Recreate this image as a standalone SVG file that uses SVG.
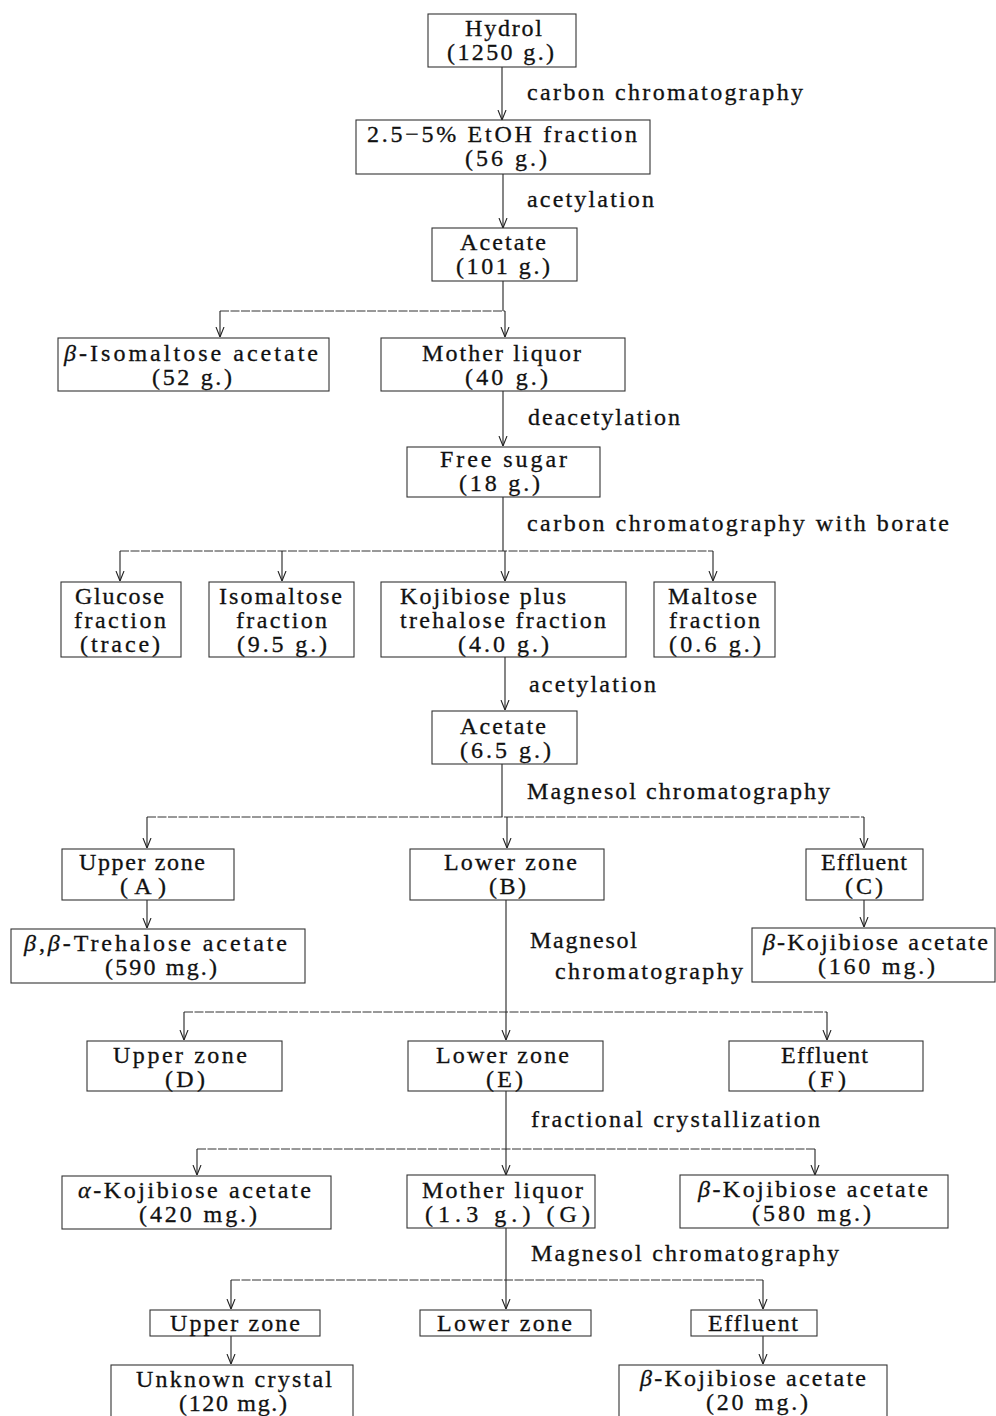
<svg xmlns="http://www.w3.org/2000/svg" width="996" height="1416" viewBox="0 0 996 1416">
<style>
.box{fill:none;stroke:#333;stroke-width:1.1}
.t{font-family:"Liberation Serif","Times New Roman",serif;font-size:24px;fill:#111;stroke:#111;stroke-width:0.3}
.i{font-style:italic}
.c{fill:none;stroke:#222;stroke-width:1.1}
.h{fill:none;stroke:#333;stroke-width:1;stroke-dasharray:9 1.5}
</style>
<defs>
<marker id="ar" viewBox="0 0 10 10" refX="10" refY="5" markerWidth="10" markerHeight="10" markerUnits="userSpaceOnUse" orient="auto">
<path d="M0,1 L10,5 L0,9" fill="none" stroke="#222" stroke-width="1.1"/>
</marker>
</defs>
<rect width="996" height="1416" fill="#fff"/>
<g id="connectors">
<path class="c" d="M502,67V120" marker-end="url(#ar)"/>
<path class="c" d="M503,174V228" marker-end="url(#ar)"/>
<path class="c" d="M503,281V311"/>
<path class="h" d="M220,311H505"/>
<path class="c" d="M220,311V337" marker-end="url(#ar)"/>
<path class="c" d="M505,311V337" marker-end="url(#ar)"/>
<path class="c" d="M503,391V446" marker-end="url(#ar)"/>
<path class="c" d="M503,497V551"/>
<path class="h" d="M120,551H713"/>
<path class="c" d="M120,551V581" marker-end="url(#ar)"/>
<path class="c" d="M282,551V581" marker-end="url(#ar)"/>
<path class="c" d="M505,551V581" marker-end="url(#ar)"/>
<path class="c" d="M713,551V581" marker-end="url(#ar)"/>
<path class="c" d="M505,657V710" marker-end="url(#ar)"/>
<path class="c" d="M502,764V817"/>
<path class="h" d="M147,817H864"/>
<path class="c" d="M147,817V848" marker-end="url(#ar)"/>
<path class="c" d="M507,817V848" marker-end="url(#ar)"/>
<path class="c" d="M864,817V848" marker-end="url(#ar)"/>
<path class="c" d="M147,900V928" marker-end="url(#ar)"/>
<path class="c" d="M864,900V927" marker-end="url(#ar)"/>
<path class="c" d="M506,900V1012"/>
<path class="h" d="M184,1012H827"/>
<path class="c" d="M184,1012V1040" marker-end="url(#ar)"/>
<path class="c" d="M506,1012V1040" marker-end="url(#ar)"/>
<path class="c" d="M827,1012V1040" marker-end="url(#ar)"/>
<path class="c" d="M506,1091V1149"/>
<path class="h" d="M197,1149H815"/>
<path class="c" d="M197,1149V1175" marker-end="url(#ar)"/>
<path class="c" d="M506,1149V1175" marker-end="url(#ar)"/>
<path class="c" d="M815,1149V1175" marker-end="url(#ar)"/>
<path class="c" d="M506,1228V1280"/>
<path class="h" d="M231,1280H763"/>
<path class="c" d="M231,1280V1309" marker-end="url(#ar)"/>
<path class="c" d="M506,1280V1309" marker-end="url(#ar)"/>
<path class="c" d="M763,1280V1309" marker-end="url(#ar)"/>
<path class="c" d="M231,1336V1364" marker-end="url(#ar)"/>
<path class="c" d="M763,1336V1364" marker-end="url(#ar)"/>
</g>
<g id="labels">
<text class="t" x="527" y="100" textLength="276" lengthAdjust="spacing">carbon chromatography</text>
<text class="t" x="527" y="207" textLength="127" lengthAdjust="spacing">acetylation</text>
<text class="t" x="528" y="425" textLength="152" lengthAdjust="spacing">deacetylation</text>
<text class="t" x="527" y="531" textLength="422" lengthAdjust="spacing">carbon chromatography with borate</text>
<text class="t" x="529" y="692" textLength="127" lengthAdjust="spacing">acetylation</text>
<text class="t" x="527" y="799" textLength="303" lengthAdjust="spacing">Magnesol chromatography</text>
<text class="t" x="530" y="948" textLength="107" lengthAdjust="spacing">Magnesol</text>
<text class="t" x="555" y="979" textLength="188" lengthAdjust="spacing">chromatography</text>
<text class="t" x="531" y="1127" textLength="289" lengthAdjust="spacing">fractional crystallization</text>
<text class="t" x="531" y="1261" textLength="308" lengthAdjust="spacing">Magnesol chromatography</text>
</g>
<g id="n-hydrol"><rect class="box" x="428" y="14" width="148" height="53"/>
<text class="t" x="465" y="36" textLength="77" lengthAdjust="spacing">Hydrol</text>
<text class="t" x="447" y="60" textLength="107" lengthAdjust="spacing">(1250 g.)</text></g>
<g id="n-etoh"><rect class="box" x="356" y="120" width="294" height="54"/>
<text class="t" x="367" y="142" textLength="270" lengthAdjust="spacing">2.5−5% EtOH fraction</text>
<text class="t" x="465" y="166" textLength="82" lengthAdjust="spacing">(56 g.)</text></g>
<g id="n-acetate1"><rect class="box" x="432" y="228" width="145" height="53"/>
<text class="t" x="460" y="250" textLength="86" lengthAdjust="spacing">Acetate</text>
<text class="t" x="456" y="274" textLength="94" lengthAdjust="spacing">(101 g.)</text></g>
<g id="n-isomaltose-acetate"><rect class="box" x="58" y="338" width="271" height="53"/>
<text class="t" x="64" y="361" textLength="254" lengthAdjust="spacing"><tspan class="i">β</tspan>-Isomaltose acetate</text>
<text class="t" x="152" y="385" textLength="80" lengthAdjust="spacing">(52 g.)</text></g>
<g id="n-mother1"><rect class="box" x="381" y="338" width="244" height="53"/>
<text class="t" x="422" y="361" textLength="159" lengthAdjust="spacing">Mother liquor</text>
<text class="t" x="465" y="385" textLength="83" lengthAdjust="spacing">(40 g.)</text></g>
<g id="n-freesugar"><rect class="box" x="407" y="447" width="193" height="50"/>
<text class="t" x="440" y="467" textLength="127" lengthAdjust="spacing">Free sugar</text>
<text class="t" x="459" y="491" textLength="81" lengthAdjust="spacing">(18 g.)</text></g>
<g id="n-glucose"><rect class="box" x="61" y="582" width="120" height="75"/>
<text class="t" x="75" y="604" textLength="89" lengthAdjust="spacing">Glucose</text>
<text class="t" x="74" y="628" textLength="92" lengthAdjust="spacing">fraction</text>
<text class="t" x="80" y="652" textLength="80" lengthAdjust="spacing">(trace)</text></g>
<g id="n-isomaltose-frac"><rect class="box" x="209" y="582" width="145" height="75"/>
<text class="t" x="219" y="604" textLength="123" lengthAdjust="spacing">Isomaltose</text>
<text class="t" x="236" y="628" textLength="91" lengthAdjust="spacing">fraction</text>
<text class="t" x="237" y="652" textLength="90" lengthAdjust="spacing">(9.5 g.)</text></g>
<g id="n-kojibiose-plus"><rect class="box" x="381" y="582" width="245" height="75"/>
<text class="t" x="400" y="604" textLength="166" lengthAdjust="spacing">Kojibiose plus</text>
<text class="t" x="400" y="628" textLength="206" lengthAdjust="spacing">trehalose fraction</text>
<text class="t" x="458" y="652" textLength="91" lengthAdjust="spacing">(4.0 g.)</text></g>
<g id="n-maltose"><rect class="box" x="654" y="582" width="121" height="75"/>
<text class="t" x="668" y="604" textLength="89" lengthAdjust="spacing">Maltose</text>
<text class="t" x="669" y="628" textLength="91" lengthAdjust="spacing">fraction</text>
<text class="t" x="669" y="652" textLength="92" lengthAdjust="spacing">(0.6 g.)</text></g>
<g id="n-acetate2"><rect class="box" x="432" y="711" width="145" height="53"/>
<text class="t" x="460" y="734" textLength="86" lengthAdjust="spacing">Acetate</text>
<text class="t" x="460" y="758" textLength="91" lengthAdjust="spacing">(6.5 g.)</text></g>
<g id="n-A"><rect class="box" x="62" y="849" width="172" height="51"/>
<text class="t" x="79" y="870" textLength="126" lengthAdjust="spacing">Upper zone</text>
<text class="t" x="120" y="894" textLength="46" lengthAdjust="spacing">(A)</text></g>
<g id="n-B"><rect class="box" x="410" y="849" width="194" height="51"/>
<text class="t" x="444" y="870" textLength="133" lengthAdjust="spacing">Lower zone</text>
<text class="t" x="489" y="894" textLength="37" lengthAdjust="spacing">(B)</text></g>
<g id="n-C"><rect class="box" x="806" y="849" width="117" height="51"/>
<text class="t" x="821" y="870" textLength="86" lengthAdjust="spacing">Effluent</text>
<text class="t" x="845" y="894" textLength="38" lengthAdjust="spacing">(C)</text></g>
<g id="n-trehalose"><rect class="box" x="11" y="929" width="294" height="54"/>
<text class="t" x="24" y="951" textLength="263" lengthAdjust="spacing"><tspan class="i">β</tspan>,<tspan class="i">β</tspan>-Trehalose acetate</text>
<text class="t" x="105" y="975" textLength="112" lengthAdjust="spacing">(590 mg.)</text></g>
<g id="n-koji160"><rect class="box" x="752" y="928" width="243" height="54"/>
<text class="t" x="763" y="950" textLength="225" lengthAdjust="spacing"><tspan class="i">β</tspan>-Kojibiose acetate</text>
<text class="t" x="818" y="974" textLength="117" lengthAdjust="spacing">(160 mg.)</text></g>
<g id="n-D"><rect class="box" x="87" y="1041" width="195" height="50"/>
<text class="t" x="113" y="1063" textLength="134" lengthAdjust="spacing">Upper zone</text>
<text class="t" x="165" y="1087" textLength="40" lengthAdjust="spacing">(D)</text></g>
<g id="n-E"><rect class="box" x="408" y="1041" width="195" height="50"/>
<text class="t" x="436" y="1063" textLength="133" lengthAdjust="spacing">Lower zone</text>
<text class="t" x="486" y="1087" textLength="37" lengthAdjust="spacing">(E)</text></g>
<g id="n-F"><rect class="box" x="729" y="1041" width="194" height="50"/>
<text class="t" x="781" y="1063" textLength="87" lengthAdjust="spacing">Effluent</text>
<text class="t" x="808" y="1087" textLength="38" lengthAdjust="spacing">(F)</text></g>
<g id="n-alpha-koji"><rect class="box" x="62" y="1176" width="269" height="53"/>
<text class="t" x="78" y="1198" textLength="233" lengthAdjust="spacing"><tspan class="i">α</tspan>-Kojibiose acetate</text>
<text class="t" x="139" y="1222" textLength="118" lengthAdjust="spacing">(420 mg.)</text></g>
<g id="n-mother-G"><rect class="box" x="407" y="1175" width="188" height="53"/>
<text class="t" x="422" y="1198" textLength="161" lengthAdjust="spacing">Mother liquor</text>
<text class="t" x="425" y="1222" textLength="165" lengthAdjust="spacing">(1.3 g.) (G)</text></g>
<g id="n-koji580"><rect class="box" x="680" y="1175" width="268" height="53"/>
<text class="t" x="698" y="1197" textLength="230" lengthAdjust="spacing"><tspan class="i">β</tspan>-Kojibiose acetate</text>
<text class="t" x="752" y="1221" textLength="119" lengthAdjust="spacing">(580 mg.)</text></g>
<g id="n-upper3"><rect class="box" x="150" y="1310" width="170" height="26"/>
<text class="t" x="170" y="1331" textLength="130" lengthAdjust="spacing">Upper zone</text></g>
<g id="n-lower3"><rect class="box" x="420" y="1310" width="171" height="26"/>
<text class="t" x="437" y="1331" textLength="135" lengthAdjust="spacing">Lower zone</text></g>
<g id="n-effluent3"><rect class="box" x="691" y="1310" width="126" height="26"/>
<text class="t" x="708" y="1331" textLength="90" lengthAdjust="spacing">Effluent</text></g>
<g id="n-unknown"><rect class="box" x="111" y="1365" width="242" height="60"/>
<text class="t" x="136" y="1387" textLength="196" lengthAdjust="spacing">Unknown crystal</text>
<text class="t" x="179" y="1411" textLength="108" lengthAdjust="spacing">(120 mg.)</text></g>
<g id="n-koji20"><rect class="box" x="619" y="1365" width="268" height="60"/>
<text class="t" x="640" y="1386" textLength="226" lengthAdjust="spacing"><tspan class="i">β</tspan>-Kojibiose acetate</text>
<text class="t" x="706" y="1410" textLength="102" lengthAdjust="spacing">(20 mg.)</text></g>
</svg>
